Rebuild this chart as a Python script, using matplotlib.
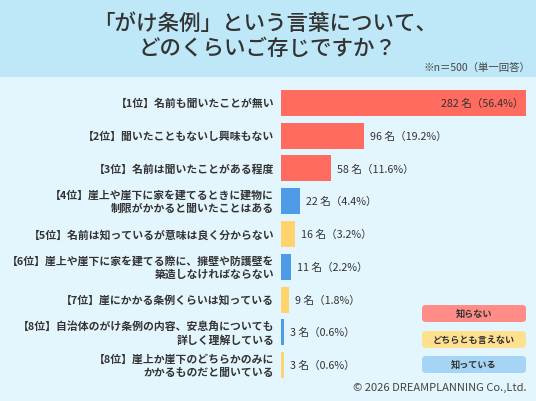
import matplotlib

matplotlib.use("Agg")
import matplotlib.pyplot as plt  # noqa: E402
from matplotlib.patches import FancyBboxPatch, Rectangle  # noqa: E402

plt.rcParams["font.family"] = ["Noto Sans CJK JP", "DejaVu Sans"]

LABELS = [
    "【1位】名前も聞いたことが無い",
    "【2位】聞いたこともないし興味もない",
    "【3位】名前は聞いたことがある程度",
    "【4位】崖上や崖下に家を建てるときに建物に\n制限がかかると聞いたことはある",
    "【5位】名前は知っているが意味は良く分からない",
    "【6位】崖上や崖下に家を建てる際に、擁壁や防護壁を\n築造しなければならない",
    "【7位】崖にかかる条例くらいは知っている",
    "【8位】自治体のがけ条例の内容、安息角についても\n詳しく理解している",
    "【8位】崖上か崖下のどちらかのみに\nかかるものだと聞いている",
]
COUNTS = [282, 96, 58, 22, 16, 11, 9, 3, 3]
PCTS = [56.4, 19.2, 11.6, 4.4, 3.2, 2.2, 1.8, 0.6, 0.6]
GROUPS = ["no", "no", "no", "know", "mid", "know", "mid", "know", "mid"]

BAR_COLORS = {"no": "#FF6B5F", "mid": "#FFD36E", "know": "#4E9CE6"}
LEGEND = [("知らない", "#FF8C86"), ("どちらとも言えない", "#FFE08E"),
          ("知っている", "#A5D4F5")]

W, H = 536, 402
fig = plt.figure(figsize=(W / 100, H / 100), dpi=100)
fig.patch.set_facecolor("#E4F6FD")

# header band
fig.patches.append(Rectangle((0, 1 - 78 / H), 1, 78 / H, transform=fig.transFigure,
                             facecolor="#BEE8F8", edgecolor="none", zorder=0))
fig.text(0.495, 1 - 24 / H, "「がけ条例」という言葉について、", ha="center", va="center",
         fontsize=15.5, color="#333333", fontweight="medium")
fig.text(0.5, 1 - 49 / H, "どのくらいご存じですか？", ha="center", va="center",
         fontsize=15.5, color="#333333", fontweight="medium")
fig.text(530 / W, 1 - 68 / H, "※n＝500（単一回答）", ha="right", va="center",
         fontsize=7.5, color="#444444")

ax = fig.add_axes([281 / W, 1 - 382.5 / H, (526 - 281) / W, (382.5 - 87.5) / H])
ax.set_facecolor("none")
ypos = list(range(len(COUNTS)))
ax.barh(ypos, COUNTS, height=0.79, color=[BAR_COLORS[g] for g in GROUPS])
ax.set_xlim(0, 282)
ax.set_ylim(len(COUNTS) - 0.5, -0.5)
ax.axis("off")

for i, (c, p) in enumerate(zip(COUNTS, PCTS)):
    txt = f"{c} 名（{p}%）"
    if i == 0:
        ax.text(c - 3, i, txt, ha="right", va="center", fontsize=7.7, color="#333333")
    else:
        ax.text(c + 7, i, txt, ha="left", va="center", fontsize=7.7, color="#333333")
    ax.text(-8, i, LABELS[i], ha="right", va="center", fontsize=7.8,
            color="#333333", fontweight="bold", linespacing=1.35,
            multialignment="right")

# legend boxes
for k, (name, col) in enumerate(LEGEND):
    y0 = [306, 332, 357][k]
    box = FancyBboxPatch((422 / W, 1 - (y0 + 17) / H), 104 / W, 17 / H,
                         boxstyle="round,pad=0,rounding_size=0.008",
                         transform=fig.transFigure, facecolor=col,
                         edgecolor="none")
    fig.patches.append(box)
    fig.text(474 / W, 1 - (y0 + 8.5) / H, name, ha="center", va="center",
             fontsize=6.6, color="#333333", fontweight="bold")

fig.text(527 / W, 1 - 388 / H, "© 2026 DREAMPLANNING Co.,Ltd.", ha="right",
         va="center", fontsize=8, color="#444444")

fig.savefig("out.png", dpi=100, facecolor=fig.get_facecolor())
